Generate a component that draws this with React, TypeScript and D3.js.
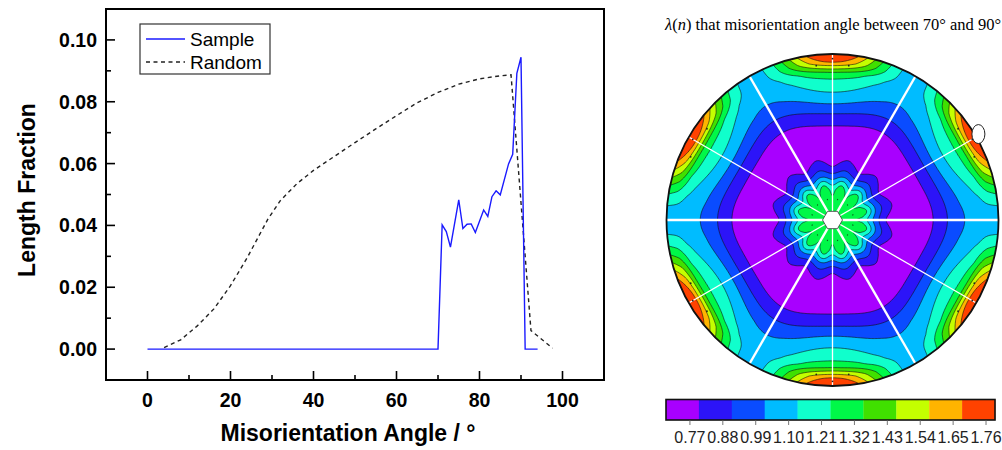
import React, { useEffect, useRef } from 'react';
import * as d3 from 'd3';

// ---- left panel: misorientation angle distribution ----
const sampleAngle = [0, 70, 71, 72, 73, 75, 76, 77, 78, 79, 81, 82, 83, 84, 85, 87, 88, 89, 90, 91, 94];
const sampleFraction = [0, 0, 0.0402, 0.038, 0.033, 0.0483, 0.039, 0.0404, 0.0405, 0.0377, 0.045, 0.0429, 0.0493, 0.0512, 0.0499, 0.0599, 0.063, 0.0892, 0.0944, 0, 0];
const randomAngle = [4, 8, 12, 16, 20, 24, 27, 29, 32, 36, 40, 45, 50, 55, 60, 65, 70, 75, 80, 85, 87.6, 92.4, 97.6];
const randomFraction = [0.0005, 0.003, 0.0075, 0.013, 0.0205, 0.0295, 0.037, 0.042, 0.048, 0.0535, 0.0578, 0.0623, 0.0668, 0.0712, 0.0755, 0.0797, 0.083, 0.0857, 0.0874, 0.0884, 0.0887, 0.006, 0.0003];
const angleTicks = [0, 20, 40, 60, 80, 100];
const angleMinor = [10, 30, 50, 70, 90];
const fractionTicks = [0, 0.02, 0.04, 0.06, 0.08, 0.1];
const fractionMinor = [0.01, 0.03, 0.05, 0.07, 0.09];

// ---- right panel: lambda(n) stereogram ----
const levelTicks = [0.77, 0.88, 0.99, 1.1, 1.21, 1.32, 1.43, 1.54, 1.65, 1.76];
const levelColors = ['#a800ff', '#2c14f8', '#0a4cff', '#00bcff', '#10ffcc', '#00f848', '#40e000', '#c4ff00', '#ffb400', '#ff4200'];
const levelDomain = [0.69, 1.79];
// radial profiles read along a hot-spot direction (30°, 90°, ...) and between them (0°, 60°, ...)
const profileRadius = [0, 0.12, 0.18, 0.21, 0.24, 0.27, 0.31, 0.36, 0.46, 0.54, 0.58, 0.64, 0.7, 0.77, 0.85, 0.89, 0.91, 0.93, 0.95, 1.0];
const hotspotProfile = [1.32, 1.31, 1.27, 1.19, 1.08, 0.97, 0.86, 0.78, 0.72, 0.76, 0.82, 0.91, 1.02, 1.13, 1.24, 1.35, 1.46, 1.57, 1.68, 1.85];
const betweenProfile = [1.32, 1.31, 1.27, 1.19, 1.08, 0.97, 0.86, 0.78, 0.72, 0.74, 0.77, 0.84, 0.92, 1.0, 1.06, 1.07, 1.075, 1.08, 1.08, 1.08];
// 12-fold ripple of the central star
const petalRadius = [0, 0.08, 0.13, 0.18, 0.22, 0.27, 0.32, 0.36, 0.42];
const petalAmplitude = [0, 0, 0.05, 0.06, 0.06, 0.03, 0.04, 0.03, 0];
const hotspotAngles = [30, 90, 150, 210, 270, 330];
const guideAngles = [0, 30, 60, 90, 120, 150];
const nodeRadius = [0.935, 0.935, 0.972];
const nodeOffset = [-6, 6, 0];

const FONT = '"Liberation Sans", Arial, sans-serif';
const SERIF = '"Liberation Serif", "Times New Roman", serif';

function drawDistribution(svg) {
  const plot = { left: 106, right: 604, top: 9, bottom: 380 };
  const x = d3.scaleLinear().domain([-10, 110]).range([plot.left, plot.right]);
  const y = d3.scaleLinear().domain([-0.01, 0.11]).range([plot.bottom, plot.top]);
  const g = svg.append('g');

  const line = d3.line().x(d => x(d[0])).y(d => y(d[1]));

  g.append('path')
    .datum(randomAngle.map((a, i) => [a, randomFraction[i]]))
    .attr('d', line)
    .attr('fill', 'none')
    .attr('stroke', '#222')
    .attr('stroke-width', 1.4)
    .attr('stroke-dasharray', '4,3.5');

  g.append('path')
    .datum(sampleAngle.map((a, i) => [a, sampleFraction[i]]))
    .attr('d', line)
    .attr('fill', 'none')
    .attr('stroke', '#1a1aff')
    .attr('stroke-width', 1.4);

  // frame
  g.append('rect')
    .attr('x', plot.left).attr('y', plot.top)
    .attr('width', plot.right - plot.left).attr('height', plot.bottom - plot.top)
    .attr('fill', 'none').attr('stroke', '#000').attr('stroke-width', 2);

  // ticks point inward
  const tick = (sel, len, horiz) => sel;
  angleTicks.forEach(t => {
    g.append('line').attr('x1', x(t)).attr('x2', x(t)).attr('y1', plot.bottom).attr('y2', plot.bottom - 9)
      .attr('stroke', '#000').attr('stroke-width', 1.6);
    g.append('text').attr('x', x(t)).attr('y', 406.5).attr('text-anchor', 'middle')
      .attr('font-family', FONT).attr('font-weight', 'bold').attr('font-size', 19.5).text(t);
  });
  angleMinor.forEach(t => {
    g.append('line').attr('x1', x(t)).attr('x2', x(t)).attr('y1', plot.bottom).attr('y2', plot.bottom - 5)
      .attr('stroke', '#000').attr('stroke-width', 1.6);
  });
  fractionTicks.forEach(t => {
    g.append('line').attr('x1', plot.left).attr('x2', plot.left + 9).attr('y1', y(t)).attr('y2', y(t))
      .attr('stroke', '#000').attr('stroke-width', 1.6);
    g.append('text').attr('x', 97).attr('y', y(t) + 7).attr('text-anchor', 'end')
      .attr('font-family', FONT).attr('font-weight', 'bold').attr('font-size', 19.5).text(t.toFixed(2));
  });
  fractionMinor.forEach(t => {
    g.append('line').attr('x1', plot.left).attr('x2', plot.left + 5).attr('y1', y(t)).attr('y2', y(t))
      .attr('stroke', '#000').attr('stroke-width', 1.6);
  });

  // axis titles
  g.append('text').attr('x', 348).attr('y', 441).attr('text-anchor', 'middle')
    .attr('font-family', FONT).attr('font-weight', 'bold').attr('font-size', 23)
    .text('Misorientation Angle / °');
  g.append('text').attr('transform', 'translate(35,190) rotate(-90)').attr('text-anchor', 'middle')
    .attr('font-family', FONT).attr('font-weight', 'bold').attr('font-size', 23)
    .text('Length Fraction');

  // legend
  const lg = g.append('g');
  lg.append('rect').attr('x', 140).attr('y', 24).attr('width', 130).attr('height', 50)
    .attr('fill', '#fff').attr('stroke', '#333').attr('stroke-width', 1.2);
  lg.append('line').attr('x1', 146).attr('x2', 185).attr('y1', 39).attr('y2', 39)
    .attr('stroke', '#1a1aff').attr('stroke-width', 1.4);
  lg.append('line').attr('x1', 146).attr('x2', 185).attr('y1', 62).attr('y2', 62)
    .attr('stroke', '#222').attr('stroke-width', 1.4).attr('stroke-dasharray', '4,3.5');
  lg.append('text').attr('x', 190).attr('y', 46).attr('font-family', FONT).attr('font-size', 19).text('Sample');
  lg.append('text').attr('x', 190).attr('y', 68.5).attr('font-family', FONT).attr('font-size', 19).text('Random');
}

function drawStereogram(svg) {
  const R = 166, cx = 832.5, cy = 220;
  const ext = 1.03, n = 240;
  const hot = d3.scaleLinear(profileRadius, hotspotProfile).clamp(true);
  const mid = d3.scaleLinear(profileRadius, betweenProfile).clamp(true);
  const petal = d3.scaleLinear(petalRadius, petalAmplitude).clamp(true);

  const grid = new Array(n * n);
  for (let j = 0; j < n; j++) {
    for (let i = 0; i < n; i++) {
      const u = -ext + (i + 0.5) * 2 * ext / n;
      const v = ext - (j + 0.5) * 2 * ext / n;
      const r = Math.hypot(u, v);
      const th = Math.atan2(v, u);
      const w = (1 - Math.cos(6 * th)) / 2;
      grid[j * n + i] = (1 - w) * mid(r) + w * hot(r) - petal(r) * Math.cos(12 * th);
    }
  }
  const step = (levelDomain[1] - levelDomain[0]) / levelColors.length;
  const thresholds = d3.range(1, levelColors.length).map(k => levelDomain[0] + k * step);
  const contours = d3.contours().size([n, n]).thresholds(thresholds)(grid);
  const path = d3.geoPath(d3.geoIdentity().scale(2 * ext * R / n).translate([cx - ext * R, cy - ext * R]));

  svg.append('clipPath').attr('id', 'disc')
    .append('circle').attr('cx', cx).attr('cy', cy).attr('r', R);

  const g = svg.append('g').attr('clip-path', 'url(#disc)');
  g.append('circle').attr('cx', cx).attr('cy', cy).attr('r', R).attr('fill', levelColors[0]);
  g.selectAll('path.level')
    .data(contours)
    .join('path')
    .attr('class', 'level')
    .attr('d', path)
    .attr('fill', (d, i) => levelColors[i + 1])
    .attr('stroke', '#111')
    .attr('stroke-width', 0.6);

  // symmetry lines
  guideAngles.forEach((a, i) => {
    const t = a * Math.PI / 180;
    g.append('line')
      .attr('x1', cx - R * Math.cos(t)).attr('y1', cy + R * Math.sin(t))
      .attr('x2', cx + R * Math.cos(t)).attr('y2', cy - R * Math.sin(t))
      .attr('stroke', '#fff').attr('stroke-width', i % 2 === 0 ? 2.4 : 1.3);
  });

  // grid nodes in the hot spots
  hotspotAngles.forEach(h => {
    nodeRadius.forEach((nr, k) => {
      const t = (h + nodeOffset[k]) * Math.PI / 180;
      g.append('circle').attr('cx', cx + nr * R * Math.cos(t)).attr('cy', cy - nr * R * Math.sin(t))
        .attr('r', 0.9).attr('fill', '#222');
    });
  });

  // central hexagon
  const hex = d3.range(6).map(k => [cx + 10 * Math.cos(k * Math.PI / 3), cy - 10 * Math.sin(k * Math.PI / 3)]);
  svg.append('polygon').attr('points', hex.map(p => p.join(',')).join(' '))
    .attr('fill', '#fff').attr('stroke', '#333').attr('stroke-width', 0.8);

  svg.append('circle').attr('cx', cx).attr('cy', cy).attr('r', R)
    .attr('fill', 'none').attr('stroke', '#111').attr('stroke-width', 1.8);

  // pole marker at the rim
  const pt = 30.5 * Math.PI / 180;
  svg.append('ellipse').attr('cx', cx + 1.02 * R * Math.cos(pt)).attr('cy', cy - 1.02 * R * Math.sin(pt))
    .attr('rx', 6.5).attr('ry', 9.5).attr('fill', '#fff').attr('stroke', '#222').attr('stroke-width', 1);

  // title
  const title = svg.append('text').attr('x', 665).attr('y', 30)
    .attr('font-family', SERIF).attr('font-size', 16.5).attr('fill', '#000');
  title.append('tspan').attr('font-style', 'italic').text('λ');
  title.append('tspan').text('(');
  title.append('tspan').attr('font-style', 'italic').text('n');
  title.append('tspan').text(') that misorientation angle between 70° and 90°');

  // colour bar
  const bx = d3.scaleLinear().domain(levelDomain).range([666, 995]);
  const bar = svg.append('g');
  bar.selectAll('rect')
    .data(levelColors)
    .join('rect')
    .attr('x', (d, i) => bx(levelDomain[0] + i * step))
    .attr('width', bx(levelDomain[0] + step) - bx(levelDomain[0]) + 0.3)
    .attr('y', 399.5).attr('height', 20.5)
    .attr('fill', d => d);
  bar.append('rect').attr('x', 666).attr('y', 399.5).attr('width', 329).attr('height', 20.5)
    .attr('fill', 'none').attr('stroke', '#111').attr('stroke-width', 1.6);
  levelTicks.forEach(t => {
    bar.append('line').attr('x1', bx(t)).attr('x2', bx(t)).attr('y1', 420.5).attr('y2', 425)
      .attr('stroke', '#777').attr('stroke-width', 1);
    bar.append('text').attr('x', bx(t)).attr('y', 443).attr('text-anchor', 'middle')
      .attr('font-family', FONT).attr('font-size', 16).attr('fill', '#222').text(t.toFixed(2));
  });
}

export default function App() {
  const svgRef = useRef(null);

  useEffect(() => {
    const svg = d3.select(svgRef.current);
    svg.selectAll('*').remove();
    drawDistribution(svg);
    drawStereogram(svg);
  }, []);

  return (
    <svg
      ref={svgRef}
      width={1002}
      height={450}
      style={{ position: 'absolute', left: 0, top: 0, background: '#fff' }}
    />
  );
}
